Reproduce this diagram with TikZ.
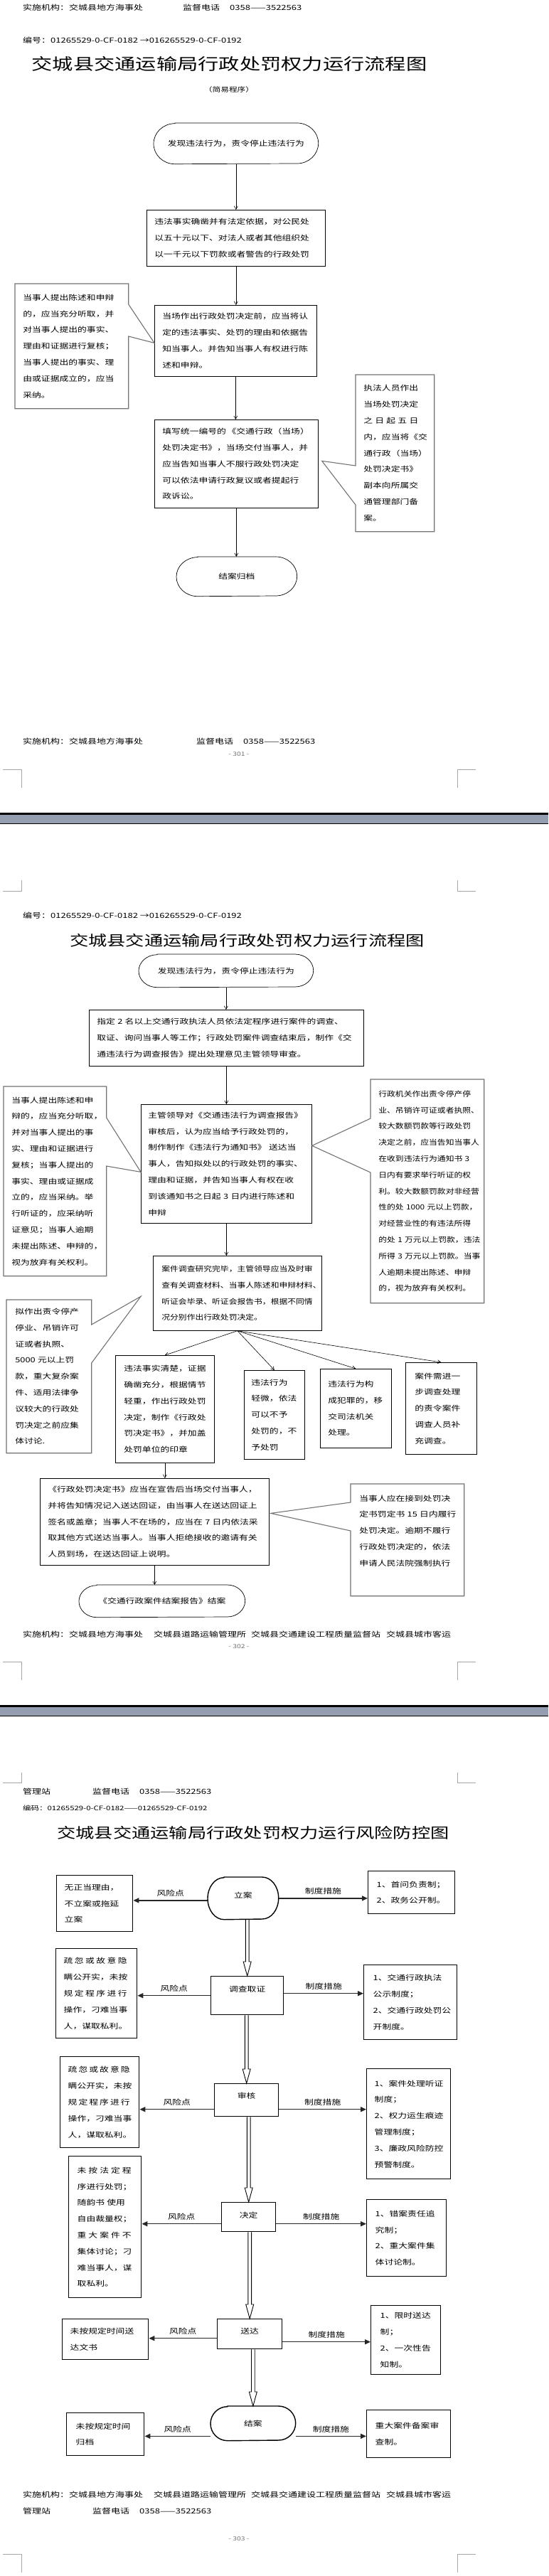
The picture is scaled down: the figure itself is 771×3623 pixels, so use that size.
\documentclass[tikz,border=0pt]{standalone}
\usepackage{fontspec}
\usetikzlibrary{arrows.meta,calc}
\newfontfamily\cjk[FakeStretch=1.28]{Noto Sans CJK SC}
\newfontfamily\cjkw[FakeStretch=1.3]{Noto Sans CJK SC}
\newfontfamily\cjkn[FakeStretch=1.18]{Noto Sans CJK SC}
\newcommand\bxf{\cjk\fontsize{10}{22.8}\selectfont}
\newcommand\bnf{\cjkn\fontsize{10}{22.8}\selectfont}
\newcommand\hdf{\cjkw\fontsize{10}{12}\selectfont}
\newcommand\jl[2]{\makebox[#1][s]{#2}}
\definecolor{sepc}{HTML}{959DB0}
\tikzset{
 bx/.style={draw, line width=0.7pt, align=left, inner ysep=0pt, anchor=north west, font=\bxf},
 cl/.style={draw=black!55, line width=1.1pt, line join=miter},
 ar/.style={draw, line width=0.6pt, -{Straight Barb[length=4.5pt,width=5pt]}},
 rk/.style={draw=black!85, line width=1.4pt, -{Triangle[length=8pt,width=7pt]}},
 lbl/.style={font=\bxf, above=4pt, inner sep=0.5pt, text=black},
 crn/.style={draw=black!35, line width=0.6pt},
 hd/.style={anchor=west, inner sep=0pt, font=\hdf},
 pg/.style={inner sep=0pt, text=black!55, font=\cjkw\fontsize{8}{9}\selectfont},
 ttl/.style={inner sep=0pt, font=\cjkw\fontsize{20.2}{24}\selectfont},
}
\newcommand\BX[8][]{%
\pgfmathsetmacro\BXw{#5-#3}%
\pgfmathsetmacro\BXh{#6-#4}%
\pgfmathsetmacro\BXt{#5-#3-2*#7}%
\node[bx,#1,minimum width=\BXw pt,minimum height=\BXh pt,text width=\BXt pt,inner xsep=#7pt] (#2) at (#3,#4) {#8};}
\newcommand\stadium[4][]{\draw[line width=0.7pt,#1] ([xshift=#3]#2.north west) -- ([xshift=-#3]#2.north east) arc[start angle=90,end angle=-90,x radius=#3,y radius=#4] -- ([xshift=#3]#2.south west) arc[start angle=270,end angle=90,x radius=#3,y radius=#4] -- cycle;}
\newcommand\CallR[4]{\draw[cl] (#1.north west) -- (#1.north east) -- ([yshift=-#2pt]#1.north east) -- (#4) -- ([yshift=-#3pt]#1.north east) -- (#1.south east) -- (#1.south west) -- cycle;}
\newcommand\CallL[4]{\draw[cl] (#1.north west) -- (#1.north east) -- (#1.south east) -- (#1.south west) -- ([yshift=-#3pt]#1.north west) -- (#4) -- ([yshift=-#2pt]#1.north west) -- cycle;}
\newcommand\DA[2]{\draw[line width=0.9pt] ([xshift=-2.4pt]#1.south -| #2.north) -- ([xshift=-2.4pt,yshift=20pt]#2.north) -- ([xshift=-5.5pt,yshift=20pt]#2.north) -- (#2.north) -- ([xshift=5.5pt,yshift=20pt]#2.north) -- ([xshift=2.4pt,yshift=20pt]#2.north) -- ([xshift=2.4pt]#1.south -| #2.north);}
\newcommand\crnB[1]{\draw[crn] (4,#1) -- (30,#1) -- (30,#1+26); \draw[crn] (669,#1) -- (643,#1) -- (643,#1+26);}
\newcommand\crnT[2]{\draw[crn] (30,#1) -- (30,#2) -- (4,#2); \draw[crn] (643,#1) -- (643,#2) -- (669,#2);}
\begin{document}
\begin{tikzpicture}[x=1pt,y=-1pt]
\useasboundingbox (0,0) rectangle (771,3623);
\fill[white] (0,0) rectangle (771,3623);

% ================= PAGE 1 =================
\node[hd] (h1a) at (32,11) {实施机构：交城县地方海事处};
\node[hd] (h1b) at (257,11) {监督电话\hspace{14pt}0358——3522563};
\node[hd] (n1) at (32,57) {编号：01265529-0-CF-0182 →016265529-0-CF-0192};
\node[inner sep=0pt, font=\cjkw\fontsize{22.5}{26}\selectfont] (t1) at (322.5,90) {交城县交通运输局行政处罚权力运行流程图};
\node[inner sep=0pt, font=\cjkw\fontsize{9}{11}\selectfont] (s1) at (322,126) {（简易程序）};

\BX[draw=none,align=center]{r1}{216}{173}{447}{230}{10}{发现违法行为，责令停止违法行为}
\stadium{r1}{30pt}{28.5pt}
\BX{b1}{206}{295}{457}{374}{11}{违法事实确凿并有法定依据，对公民处\\以五十元以下、对法人或者其他组织处\\以一千元以下罚款或者警告的行政处罚}
\BX{b2}{217}{429}{445}{529}{11}{当场作出行政处罚决定前，应当将认\\定的违法事实、处罚的理由和依据告\\知当事人。并告知当事人有权进行陈\\述和申辩。}
\BX{b3}{217}{590}{447}{714}{11}{填写统一编号的\,《交通行政（当场）\\处罚决定书》，当场交付当事人，并\\应当告知当事人不服行政处罚决定\\可以依法申请行政复议或者提起行\\政诉讼。}
\BX[draw=none,align=center]{e1}{248}{783}{417}{838}{10}{结案归档}
\stadium{e1}{30pt}{27.5pt}

\BX[draw=none]{cl1}{21}{399}{180}{574}{11}{当事人提出陈述和申辩\\的，应当充分听取，并\\对当事人提出的事实、\\理由和证据进行复核；\\当事人提出的事实、理\\由或证据成立的，应当\\采纳。}
\CallR{cl1}{29}{74}{[yshift=-3pt]b2.west}
\BX[draw=none]{cr1}{500}{527}{610}{747}{11}{执法人员作出\\当场处罚决定\\\jl{77pt}{之\hfill 日\hfill 起\hfill 五\hfill 日}\\内，应当将《交\\通行政（当场）\\处罚决定书》\\副本向所属交\\通管理部门备\\案。}
\CallL{cr1}{128}{183}{[xshift=5pt,yshift=4pt]b3.east}

\draw[ar] (r1.south) -- (r1.south |- b1.north);
\draw[ar] (b1.south) -- (b1.south |- b2.north);
\draw[ar] (b2.south) -- (b2.south |- b3.north);
\draw[ar] (b3.south) -- (b3.south |- e1.north);

\node[hd] (f1a) at (32,1043) {实施机构：交城县地方海事处};
\node[hd] (f1b) at (276,1043) {监督电话\hspace{14pt}0358——3522563};
\node[pg] (p1) at (336,1061) {- 301 -};
\crnB{1082}
\fill[black] (0,1143) rectangle (771,1146);
\fill[sepc] (0,1146) rectangle (771,1158);
\draw[line width=0.7pt] (0,1158.5) -- (771,1158.5);
\crnT{1238}{1253}

% ================= PAGE 2 =================
\node[hd] (n2) at (32,1288) {编号：01265529-0-CF-0182 →016265529-0-CF-0192};
\node[ttl] (t2) at (347.5,1323) {交城县交通运输局行政处罚权力运行流程图};
\BX[draw=none,align=center]{r2}{195}{1342}{440}{1388}{10}{发现违法行为，责令停止违法行为}
\stadium{r2}{26pt}{23pt}
\BX{A}{125}{1420}{511}{1499}{11}{指定~2~名以上交通行政执法人员依法定程序进行案件的调查、\\取证、询问当事人等工作；行政处罚案件调查结束后，制作《交\\通违法行为调查报告》提出处理意见主管领导审查。}
\BX{B}{198}{1553}{438}{1720}{10}{主管领导对《交通违法行为调查报告》\\审核后，认为应当给予行政处罚的，\\制作制作《违法行为通知书》~送达当\\事人，告知拟处以的行政处罚的事实、\\理由和证据，并告知当事人有权在收\\到该通知书之日起~3~日内进行陈述和\\申辩}
\BX[draw=none]{C}{5}{1528}{149}{1794}{11}{当事人提出陈述和申\\辩的，应当充分听取，\\并对当事人提出的事\\实、理由和证据进行\\复核；当事人提出的\\事实、理由或证据成\\立的，应当采纳。举\\行听证的，应采纳听\\证意见；当事人逾期\\未提出陈述、申辩的，\\视为放弃有关权利。}
\CallR{C}{44}{112}{[yshift=-11.5pt]B.west}
\BX[draw=none,font=\bnf]{D}{521}{1518}{680}{1832}{11}{行政机关作出责令停产停\\业、吊销许可证或者执照、\\较大数额罚款等行政处罚\\决定之前，应当告知当事人\\在收到违法行为通知书~3\\日内有要求举行听证的权\\利。较大数额罚款对非经营\\性的处~1000~元以上罚款，\\对经营业性的有违法所得\\的处~1~万元以上罚款，违法\\所得~3~万元以上罚款。当事\\人逾期未提出陈述、申辩\\的，视为放弃有关权利。}
\CallL{D}{55}{131}{[yshift=25.5pt]B.east}
\BX[font=\bnf]{E}{215}{1766}{452}{1871}{12}{案件调查研究完毕，主管领导应当及时审\\查有关调查材料、当事人陈述和申辩材料、\\听证会毕录、听证会报告书，根据不同情\\况分别作出行政处罚决定。}
\BX[draw=none]{F}{9}{1828}{128}{2043}{12}{拟作出责令停产\\停业、吊销许可\\证或者执照、\\5000~元以上罚\\款，重大复杂案\\件、适用法律争\\议较大的行政处\\罚决定之前应集\\体讨论.}
\CallR{F}{35}{89}{[xshift=-17pt,yshift=-4.5pt]E.west}
\BX{G1}{162}{1906}{301}{2057}{12}{违法事实清楚，证据\\确凿充分，根据情节\\轻重，作出行政处罚\\决定，制作《行政处\\罚决定书》，并加盖\\处罚单位的印章}
\BX{G2}{343}{1927}{428}{2052}{10}{违法行为\\轻微，依法\\可以不予\\处罚的，不\\予处罚}
\BX{G3}{450}{1925}{550}{2036}{11}{违法行为构\\成犯罪的，移\\交司法机关\\处理。}
\BX{G4}{570}{1916}{670}{2045}{13}{案件需进一\\步调查处理\\的责令案件\\调查人员补\\充调查。}
\BX{H}{56}{2079}{378}{2201}{11}{《行政处罚决定书》应当在宣告后当场交付当事人，\\并将告知情况记入送达回证，由当事人在送达回证上\\签名或盖章；当事人不在场的，应当在~7~日内依法采\\取其他方式送达当事人。当事人拒绝接收的邀请有关\\人员到场，在送达回证上说明。}
\BX[draw=none,text depth=118pt]{I}{493}{2087}{652}{2244}{12}{当事人应在接到处罚决\\定书罚定书~15~日内履行\\处罚决定。逾期不履行\\行政处罚决定的，依法\\申请人民法院强制执行}
\CallL{I}{26}{66}{[xshift=2pt,yshift=12pt]H.east}
\BX[draw=none,align=center]{J}{111}{2229}{344}{2274}{8}{《交通行政案件结案报告》结案}
\stadium{J}{25pt}{22.5pt}

\draw[ar] (r2.south) -- (r2.south |- A.north);
\draw[ar] (A.south) -- (A.south |- B.north);
\draw[ar] (B.south) -- (B.south |- E.north);
\draw[ar] (E.south) -- (G1.north);
\draw[ar] (E.south) -- (G2.north);
\draw[ar] (E.south) -- (G3.north);
\draw[ar] (E.south) -- (G4.north);
\draw[ar] (G1.south) -- (G1.south |- H.north);
\draw[ar] (H.south) -- (H.south |- J.north);

\node[hd] (f2) at (32,2299) {实施机构：交城县地方海事处\hspace{15pt}交城县道路运输管理所\hspace{7pt}交城县交通建设工程质量监督站\hspace{8pt}交城县城市客运};
\node[pg] (p2) at (336,2316) {- 302 -};
\crnB{2337}
\fill[black] (0,2398) rectangle (771,2401);
\fill[sepc] (0,2401) rectangle (771,2413);
\draw[line width=0.7pt] (0,2413.5) -- (771,2413.5);
\crnT{2493}{2507}

% ================= PAGE 3 =================
\node[hd] (h3a) at (32,2520) {管理站};
\node[hd] (h3b) at (130,2520) {监督电话\hspace{14pt}0358——3522563};
\node[hd,font=\cjkw\fontsize{8.8}{10}\selectfont] (n3) at (32,2543) {编码：01265529-0-CF-0182——01265529-CF-0192};
\node[ttl] (t3) at (356,2578) {交城县交通运输局行政处罚权力运行风险防控图};

\BX[draw=none,align=center,text depth=10pt]{m1}{292}{2640}{391}{2699}{4}{立案}
\stadium[line width=1.4pt]{m1}{23pt}{29.5pt}
\BX[line width=1.4pt,align=center,text depth=19pt]{m2}{296}{2779}{398}{2833}{4}{调查取证}
\BX[line width=1.4pt,align=center,text depth=13pt]{m3}{301}{2930}{391}{2976}{4}{审核}
\BX[line width=1.4pt,align=center,text depth=6pt]{m4}{311}{3097}{387}{3138}{4}{决定}
\BX[line width=1.4pt,align=center,text depth=9pt]{m5}{305}{3261}{396}{3303}{4}{送达}
\BX[draw=none,align=center]{m6}{296}{3384}{415}{3432}{4}{结案}
\stadium[line width=1.4pt]{m6}{24pt}{24pt}

\BX[line width=1.4pt]{L1}{79}{2637}{186}{2716}{11}{无正当理由，\\不立案或拖延\\立案}
\BX[line width=1.4pt]{L2}{78}{2740}{192}{2866}{11}{\jl{89pt}{疏\hfill 忽\hfill 或\hfill 故\hfill 意\hfill 隐}\\瞒公开实，未按\\\jl{89pt}{规\hfill 定\hfill 程\hfill 序\hfill 进\hfill 行}\\操作，刁难当事\\人，谋取私利。}
\BX[line width=1.4pt]{L3}{84}{2892}{195}{3020}{11}{\jl{87pt}{疏\hfill 忽\hfill 或\hfill 故\hfill 意\hfill 隐}\\瞒公开实，未按\\\jl{87pt}{规\hfill 定\hfill 程\hfill 序\hfill 进\hfill 行}\\操作，刁难当事\\人，谋取私利。}
\BX[line width=1.4pt]{L4}{96}{3032}{198}{3231}{12}{\jl{76pt}{未\hfill 按\hfill 法\hfill 定\hfill 程}\\序进行处罚；\\随韵书~使用\\自由裁量权；\\\jl{76pt}{重\hfill 大\hfill 案\hfill 件\hfill 不}\\集体讨论；刁\\难当事人，谋\\取私利。}
\BX[line width=1.4pt]{L5}{87}{3261}{208}{3318}{11}{未按规定时间送\\达文书}
\BX[line width=1.4pt]{L6}{93}{3393}{202}{3453}{13}{未按规定时间\\归档}

\BX[line width=1.4pt]{K1}{517}{2631}{639}{2691}{12}{1、首问负责制；\\2、政务公开制。}
\BX[line width=1.4pt]{R2}{511}{2763}{642}{2868}{13}{1、交通行政执法\\公示制度；\\2、交通行政处罚公\\开制度。}
\BX[line width=1.4pt]{R3}{515}{2909}{633}{3064}{11}{1、案件处理听证\\制度；\\2、权力运生痕迹\\管理制度；\\3、廉政风险防控\\预警制度。}
\BX[line width=1.4pt]{R4}{515}{3093}{627}{3201}{12}{1、错案责任追\\究制；\\2、重大案件集\\体讨论制。}
\BX[line width=1.4pt]{R5}{521}{3242}{619}{3339}{13}{1、限时送达\\制；\\2、一次性告\\知制。}
\BX[line width=1.4pt]{R6}{515}{3389}{633}{3456}{12}{重大案件备案审\\查制。}

\draw[rk] ([yshift=-3pt]m1.west) -- node[lbl]{风险点} ([yshift=-3pt]m1.west -| L1.east);
\draw[rk] (m1.east) -- node[lbl]{制度措施} (m1.east -| K1.west);
\draw[rk] (m2.west) -- node[lbl]{风险点} (m2.west -| L2.east);
\draw[rk] ([yshift=3pt]m2.east) -- node[lbl]{制度措施} ([yshift=3pt]m2.east -| R2.west);
\draw[rk] ([yshift=-13pt]m3.west) -- node[lbl]{风险点} ([yshift=-13pt]m3.west -| L3.east);
\draw[rk] ([yshift=-13pt]m3.east) -- node[lbl]{制度措施} ([yshift=-13pt]m3.east -| R3.west);
\draw[rk] ([yshift=-9.5pt]m4.west) -- node[lbl]{风险点} ([yshift=-9.5pt]m4.west -| L4.east);
\draw[rk] ([yshift=-9.5pt]m4.east) -- node[lbl]{制度措施} ([yshift=-9.5pt]m4.east -| R4.west);
\draw[rk] ([yshift=-6pt]m5.west) -- node[lbl]{风险点} ([yshift=-6pt]m5.west -| L5.east);
\draw[rk] ([yshift=-11pt]m5.east) -- node[lbl]{制度措施} ([yshift=-11pt]m5.east -| R5.west);
\draw[rk] ([yshift=-18pt]m6.west) -- node[lbl]{风险点} ([yshift=-18pt]m6.west -| L6.east);
\draw[rk] ([yshift=-18pt]m6.east) -- node[lbl]{制度措施} ([yshift=-18pt]m6.east -| R6.west);

\DA{m1}{m2}
\DA{m2}{m3}
\DA{m3}{m4}
\DA{m4}{m5}
\DA{m5}{m6}

\node[hd] (f3a) at (32,3509) {实施机构：交城县地方海事处\hspace{15pt}交城县道路运输管理所\hspace{7pt}交城县交通建设工程质量监督站\hspace{8pt}交城县城市客运};
\node[hd] (f3b) at (32,3532) {管理站};
\node[hd] (f3c) at (130,3532) {监督电话\hspace{14pt}0358——3522563};
\node[pg] (p3) at (336,3571) {- 303 -};
\crnB{3592}
\end{tikzpicture}
\end{document}
